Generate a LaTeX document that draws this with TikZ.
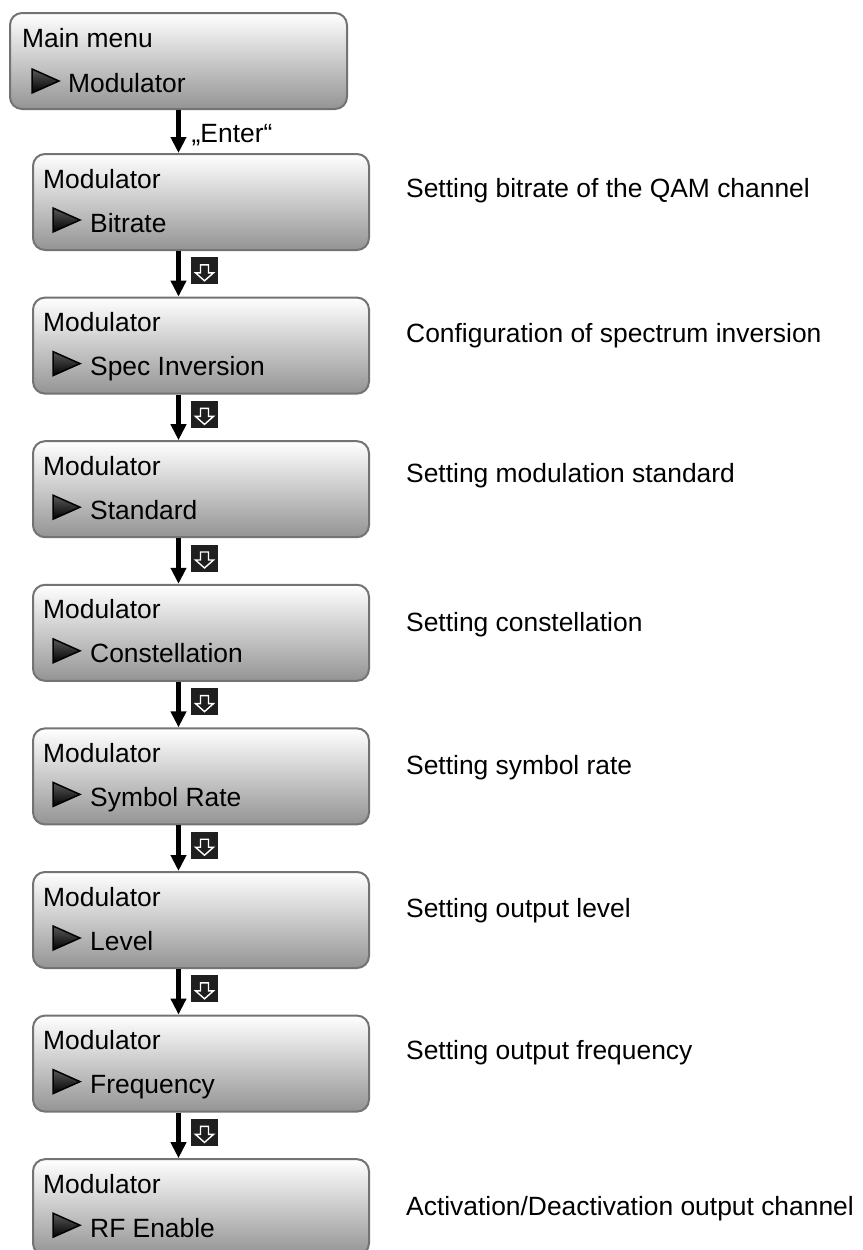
\documentclass[tikz,border=0pt]{standalone}
\usepackage{fontspec}
\setmainfont{Liberation Sans}
\usetikzlibrary{arrows.meta,positioning,calc}

\begin{document}
\begin{tikzpicture}[x=1pt,y=-1pt,
  font=\fontsize{26.4}{30}\selectfont,
  menu/.style={draw=black!55,line width=2pt,rounded corners=12pt,top color=white,bottom color=black!42,minimum height=96pt,inner sep=0pt},
  marker/.style={draw=black,line width=1.5pt,top color=black!65,bottom color=black},
  flow/.style={line width=4.8pt,-{Triangle[width=15pt,length=16pt]}},
  keycap/.style={fill=black!88,minimum size=27pt,inner sep=0pt},
  keyarrow/.style={draw=white,line width=1.4pt,line join=miter},
  hint/.style={anchor=base west,inner sep=0pt}]

\useasboundingbox (0,0) rectangle (862,1250);

% main menu
\node[menu,minimum width=337pt,anchor=north west] (top) at (9,12) {};
\node[hint] (toptitle) at ($(top.north west)+(13,35)$) {Main menu};
\shade[marker] ($(top.north west)+(23,57)$) -- ++(27,12) -- ++(-27,12) -- cycle;
\node[hint] (topitem) at ($(top.north west)+(59,80)$) {Modulator};

% submenu entries with their descriptions
\foreach \i/\item/\desc/\dy in {
  1/Bitrate/Setting bitrate of the QAM channel/44,
  2/Spec Inversion/Configuration of spectrum inversion/46,
  3/Standard/Setting modulation standard/42,
  4/Constellation/Setting constellation/48,
  5/Symbol Rate/Setting symbol rate/47,
  6/Level/Setting output level/46,
  7/Frequency/Setting output frequency/45,
  8/RF Enable/{Activation/Deactivation output channel}/57}{
  \pgfmathsetmacro\ytop{153+(\i-1)*143.6}
  \node[menu,minimum width=336pt,anchor=north west] (m\i) at (32,\ytop) {};
  \node[hint] (t\i) at ($(m\i.north west)+(11,35)$) {Modulator};
  \shade[marker] ($(m\i.north west)+(21,55)$) -- ++(27,12) -- ++(-27,12) -- cycle;
  \node[hint] (s\i) at ($(m\i.north west)+(58,79)$) {\item};
  \node[hint] (d\i) at (406,\ytop+\dy) {\desc};
}

% enter into the submenu
\draw[flow] (top.south) -- (m1.north -| top.south);
\node[hint] (enter) at ($(top.south)+(13,32)$) {„Enter“};

% down key steps
\foreach \i in {1,...,7}{
  \pgfmathtruncatemacro\j{\i+1}
  \draw[flow] (m\i.south -| top.south) -- (m\j.north -| top.south);
  \node[keycap] (k\i) at ($(m\i.south -| top.south)!0.5!(m\j.north -| top.south)+(26,-3)$) {};
  \draw[keyarrow] ($(k\i.center)+(-4,-6)$) -- ++(8,0) -- ++(0,8) -- ++(5,0)
    -- ++(-9,8) -- ++(-9,-8) -- ++(5,0) -- cycle;
}
\end{tikzpicture}
\end{document}
